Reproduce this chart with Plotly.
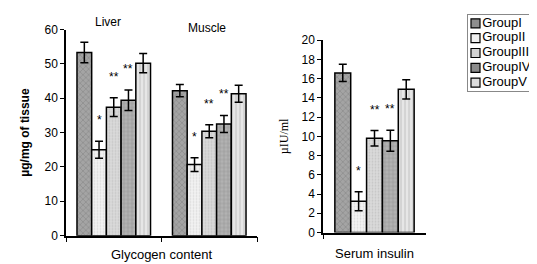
import plotly.graph_objects as go

groups = ["GroupI", "GroupII", "GroupIII", "GroupIV", "GroupV"]
tissues = ["Liver", "Muscle"]
glycogen = {
    "GroupI": [53.3, 42.2],
    "GroupII": [25.0, 20.7],
    "GroupIII": [37.4, 30.4],
    "GroupIV": [39.4, 32.5],
    "GroupV": [50.2, 41.3],
}
glycogen_err = {
    "GroupI": [3.0, 1.8],
    "GroupII": [2.5, 2.0],
    "GroupIII": [2.7, 1.9],
    "GroupIV": [3.0, 2.5],
    "GroupV": [2.8, 2.5],
}
glycogen_sig = {
    "GroupI": ["", ""],
    "GroupII": ["*", "*"],
    "GroupIII": ["**", "**"],
    "GroupIV": ["**", "**"],
    "GroupV": ["", ""],
}
insulin_cat = ["Serum insulin"]
insulin = [16.6, 3.25, 9.8, 9.55, 14.9]
insulin_err = [0.9, 1.0, 0.8, 1.1, 1.0]
insulin_sig = ["", "*", "**", "**", ""]

left_ticks = [0, 10, 20, 30, 40, 50, 60]
right_ticks = [0, 2, 4, 6, 8, 10, 12, 14, 16, 18, 20]

styles = {
    "GroupI": dict(color="#a4a4a4", shape="x", fg="#7a7a7a", size=4, sol=0.35, sw="#8e8e8e"),
    "GroupII": dict(color="#f3f3f3", shape=".", fg="#c4c4c4", size=3, sol=0.3, sw="#f0f0f0"),
    "GroupIII": dict(color="#dadada", shape=".", fg="#b0b0b0", size=3, sol=0.3, sw="#d2d2d2"),
    "GroupIV": dict(color="#b2b2b2", shape="+", fg="#7c7c7c", size=4, sol=0.3, sw="#8a8a8a"),
    "GroupV": dict(color="#e6e6e6", shape="|", fg="#a8a8a8", size=4, sol=0.3, sw="#dcdcdc"),
}

FONT = "Liberation Sans, Arial, sans-serif"
fig = go.Figure()

for i, g in enumerate(groups):
    s = styles[g]
    marker = dict(
        color=s["color"],
        line=dict(color="black", width=1.5),
        pattern=dict(shape=s["shape"], fgcolor=s["fg"], bgcolor=s["color"],
                     size=s["size"], solidity=s["sol"], fillmode="overlay"),
    )
    eb = dict(color="black", thickness=1.5, width=4)
    fig.add_trace(go.Bar(
        x=tissues, y=glycogen[g], name=g, marker=marker,
        error_y=dict(type="data", array=glycogen_err[g], **eb),
        xaxis="x", yaxis="y", showlegend=False,
    ))
    fig.add_trace(go.Bar(
        x=insulin_cat, y=[insulin[i]], name=g, marker=marker,
        error_y=dict(type="data", array=[insulin_err[i]], **eb),
        xaxis="x2", yaxis="y2", showlegend=False,
    ))

# legend drawn as a small scatter panel
fig.add_trace(go.Scatter(
    x=[0] * len(groups), y=groups, mode="markers+text",
    text=groups, textposition="middle right",
    textfont=dict(size=13, family=FONT, color="black"),
    marker=dict(symbol="square", size=9,
                color=[styles[g]["sw"] for g in groups],
                line=dict(color="black", width=1.2)),
    xaxis="x3", yaxis="y3", showlegend=False, hoverinfo="skip", cliponaxis=False,
))

# significance stars
bar_px = 14.7
ann = []
for i, g in enumerate(groups):
    off = (i - 2) * bar_px
    for j, t in enumerate(tissues):
        if glycogen_sig[g][j]:
            ann.append(dict(x=t, y=glycogen[g][j] + glycogen_err[g][j],
                            xref="x", yref="y", text=glycogen_sig[g][j],
                            showarrow=False, xshift=off, yshift=21,
                            yanchor="middle", font=dict(size=12, family=FONT, color="black")))
    if insulin_sig[i]:
        ann.append(dict(x=insulin_cat[0], y=insulin[i] + insulin_err[i],
                        xref="x2", yref="y2", text=insulin_sig[i],
                        showarrow=False, xshift=(i - 2) * 15.8, yshift=21,
                        yanchor="middle", font=dict(size=12, family=FONT, color="black")))

# category labels above
ann.append(dict(x="Liver", y=1.0, xref="x", yref="paper", text="Liver", showarrow=False,
                xshift=-6, yanchor="middle", yshift=-7, font=dict(size=12, family=FONT, color="black")))
ann.append(dict(x="Muscle", y=1.0, xref="x", yref="paper", text="Muscle", showarrow=False,
                xshift=-2, yanchor="middle", yshift=-13, font=dict(size=12, family=FONT, color="black")))

fig.update_layout(
    annotations=ann,
    width=537, height=264,
    margin=dict(l=0, r=0, t=0, b=0),
    paper_bgcolor="white", plot_bgcolor="white",
    barmode="group", bargap=0.23, bargroupgap=0,
    font=dict(family=FONT, size=12, color="black"),
    showlegend=False,
    xaxis=dict(domain=[58 / 537, 249 / 537], showticklabels=False, ticks="outside",
               tickson="boundaries", ticklen=5, tickcolor="black", showline=True,
               linecolor="black", linewidth=1.5, showgrid=False, anchor="y",
               title=dict(text="Glycogen content", font=dict(size=13), standoff=13)),
    yaxis=dict(domain=[0.1174, 0.942], range=[0, 60], tickvals=left_ticks,
               ticks="outside", ticklen=4, tickcolor="black", showline=True,
               linecolor="black", linewidth=1.5, showgrid=False, zeroline=False,
               anchor="x", tickfont=dict(size=12),
               title=dict(text="<b>µg/mg of tissue</b>", font=dict(size=12), standoff=12)),
    xaxis2=dict(domain=[315 / 537, 418 / 537], showticklabels=False, ticks="outside",
                tickson="boundaries", ticklen=5, tickcolor="black", showline=True,
                linecolor="black", linewidth=1.5, showgrid=False, anchor="y2",
                title=dict(text="Serum insulin", font=dict(size=13), standoff=16)),
    yaxis2=dict(domain=[0.130, 0.899], range=[0, 20], tickvals=right_ticks,
                ticks="outside", ticklen=4, tickcolor="black", showline=True,
                linecolor="black", linewidth=1.5, showgrid=False, zeroline=False,
                anchor="x2", tickfont=dict(size=12),
                title=dict(text="µIU/ml", font=dict(size=12, family="Liberation Serif, Times New Roman, serif"),
                           standoff=10)),
    xaxis3=dict(domain=[460 / 537, 536 / 537], range=[-7.5, 68.5], anchor="y3",
                showticklabels=False, ticks="", showgrid=False, zeroline=False,
                showline=True, mirror=True, linecolor="#888", linewidth=1, fixedrange=True),
    yaxis3=dict(domain=[1 - 80 / 264, 0.999], range=[4.55, -0.55], anchor="x3", type="category",
                showticklabels=False, ticks="", showgrid=False, zeroline=False,
                showline=True, mirror=True, linecolor="#888", linewidth=1, fixedrange=True),
)

fig.write_html("out.html")
